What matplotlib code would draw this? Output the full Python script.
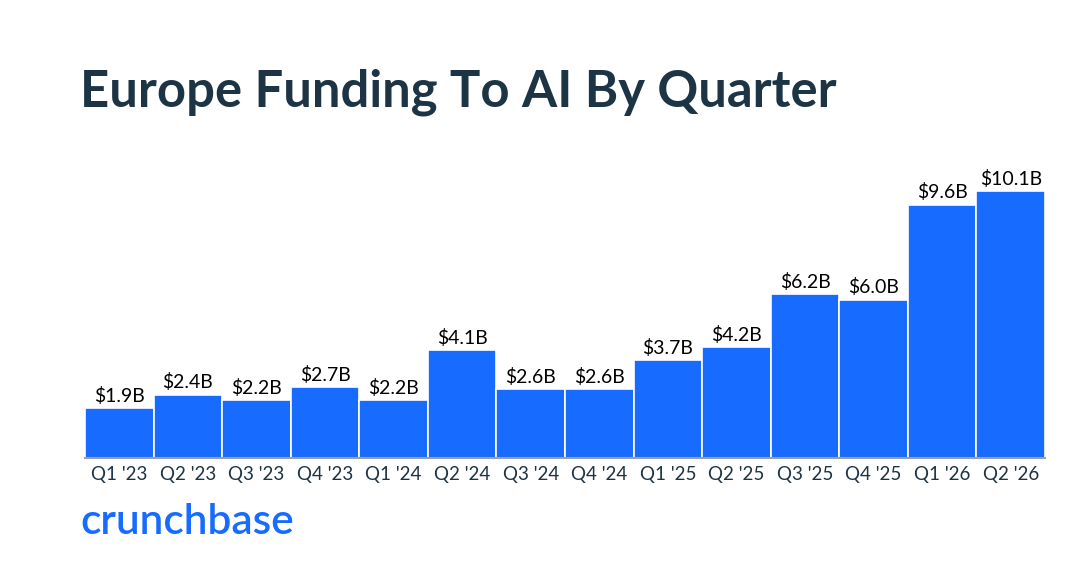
import matplotlib
matplotlib.use('Agg')
import matplotlib.pyplot as plt

quarters = ["Q1 '23", "Q2 '23", "Q3 '23", "Q4 '23", "Q1 '24", "Q2 '24", "Q3 '24",
            "Q4 '24", "Q1 '25", "Q2 '25", "Q3 '25", "Q4 '25", "Q1 '26", "Q2 '26"]
funding = [1.9, 2.4, 2.2, 2.7, 2.2, 4.1, 2.6, 2.6, 3.7, 4.2, 6.2, 6.0, 9.6, 10.1]
value_labels = ['$' + format(v, '.1f') + 'B' for v in funding]

bar_color = '#176bff'
text_color = '#1d3445'

plt.rcParams['font.family'] = ['Lato', 'DejaVu Sans']

fig = plt.figure(figsize=(10.78, 5.68), dpi=100)
ax = fig.add_axes([85 / 1078, 110 / 568, 960 / 1078, 308 / 568])

x = range(len(quarters))
ax.bar(x, funding, width=1.0, color=bar_color, edgecolor='white', linewidth=1.2)

# etiquetas de valor encima de cada barra
for i, v in enumerate(funding):
    ax.text(i, v + 0.12, value_labels[i], ha='center', va='bottom',
            fontsize=14, color='black')

ax.set_xlim(-0.5, len(quarters) - 0.5)
ax.set_ylim(0, 11.67)
ax.set_xticks(list(x))
ax.set_xticklabels(quarters, fontsize=13.5, color=text_color)
ax.tick_params(axis='x', length=0, pad=6)
ax.set_yticks([])
for side in ['top', 'right', 'left']:
    ax.spines[side].set_visible(False)
ax.spines['bottom'].set_color('#9aa0a6')
ax.spines['bottom'].set_linewidth(1.5)

fig.text(80 / 1078, 1 - 92 / 568, 'Europe Funding To AI By Quarter', fontsize=36.5,
         fontweight='bold', color=text_color, va='center', ha='left')
fig.text(80 / 1078, 1 - 522 / 568, 'crunchbase', fontsize=30.5, fontweight='semibold',
         color=bar_color, va='center', ha='left')

fig.savefig('out.png', dpi=100)
